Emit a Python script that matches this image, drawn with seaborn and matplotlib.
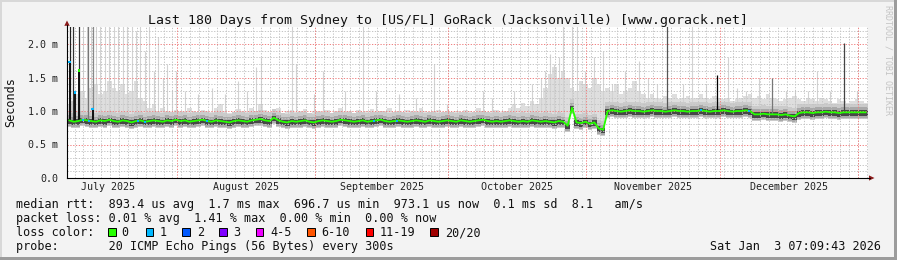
import numpy as np
import pandas as pd
import matplotlib
matplotlib.use("Agg")
import matplotlib.pyplot as plt
import seaborn as sns
from matplotlib.patches import Rectangle, Polygon
from matplotlib.lines import Line2D

# ---------------- data ----------------
START = pd.Timestamp("2025-07-07 07:09:43")
END = pd.Timestamp("2026-01-03 07:09:43")

# daily median rtt in ms (day 0 = 7 Jul 2025)
median_jul = [0.86, 0.84, 0.85, 0.87, 0.86, 0.85, 0.84, 0.86, 0.85, 0.87,
              0.85, 0.84, 0.86, 0.85, 0.83, 0.85, 0.86, 0.84, 0.85, 0.86,
              0.85, 0.84, 0.86, 0.85, 0.87]
median_aug = [0.85, 0.86, 0.84, 0.85, 0.86, 0.87, 0.85, 0.84, 0.86, 0.85,
              0.84, 0.83, 0.85, 0.86, 0.85, 0.84, 0.86, 0.87, 0.88, 0.86,
              0.85, 0.90, 0.86, 0.84, 0.83, 0.85, 0.84, 0.85, 0.86, 0.84,
              0.83]
median_sep = [0.85, 0.86, 0.85, 0.84, 0.85, 0.87, 0.86, 0.85, 0.84, 0.85,
              0.86, 0.84, 0.85, 0.86, 0.87, 0.85, 0.84, 0.85, 0.86, 0.85,
              0.84, 0.85, 0.86, 0.85, 0.84, 0.86, 0.85, 0.84, 0.85, 0.86]
median_oct = [0.85, 0.84, 0.86, 0.85, 0.84, 0.85, 0.86, 0.87, 0.85, 0.84,
              0.85, 0.84, 0.85, 0.86, 0.85, 0.84, 0.85, 0.84, 0.86, 0.85,
              0.84, 0.85, 0.84, 0.83, 0.85, 0.84]
median_shift = [0.78, 1.05, 0.83, 0.82, 0.84, 0.81, 0.83, 0.74, 0.72]
median_nov = [1.00, 1.01, 1.00, 0.99, 1.00, 1.01, 1.00, 1.00, 0.99, 1.00,
              1.01, 1.00, 1.00, 0.99, 1.00, 1.01, 1.00, 1.00, 0.99, 1.00,
              1.00, 1.01, 1.00, 0.99, 1.00, 1.00, 1.01, 1.00, 0.99, 1.00,
              1.00, 1.01, 1.00]
median_dec1 = [0.95, 0.95, 0.96, 0.95, 0.95, 0.95, 0.94, 0.95, 0.93, 0.92]
median_dec2 = [0.97, 0.98, 0.98, 0.97, 0.98, 0.98, 0.99, 0.98, 0.98, 0.97,
               0.98, 0.98, 0.98, 0.98, 0.98, 0.98]

# daily upper edge of the light smoke (ms)
smoke_jul = [1.10, 1.15, 1.25, 1.30, 1.20, 1.35, 1.40, 1.25, 1.30, 1.45,
             1.35, 1.30, 1.40, 1.25, 1.30, 1.45, 1.20, 1.15, 1.05, 1.10,
             1.00, 1.05, 1.00, 0.98, 1.02]
smoke_aug = [1.00, 0.98, 1.05, 1.00, 0.97, 1.02, 1.00, 0.98, 1.05, 1.10,
             1.00, 0.97, 0.99, 1.03, 1.00, 0.98, 1.05, 1.00, 1.10, 1.02,
             0.98, 1.00, 1.05, 0.97, 1.00, 1.02, 0.98, 1.00, 1.03, 0.97,
             1.00]
smoke_sep = [1.00, 0.98, 1.02, 0.97, 1.00, 1.05, 0.98, 1.00, 0.97, 1.02,
             0.98, 1.00, 1.03, 0.97, 0.99, 1.00, 1.05, 0.98, 1.00, 0.97,
             1.02, 1.00, 0.98, 1.05, 1.00, 0.97, 1.00, 1.02, 0.98, 1.00]
smoke_oct = [0.98, 1.00, 0.97, 1.02, 1.00, 0.98, 1.05, 1.00, 0.97, 1.00,
             1.02, 0.98, 1.00, 1.05, 1.10, 1.05, 1.12, 1.08, 1.15, 1.10,
             1.20, 1.35, 1.55, 1.65, 1.50, 1.60]
smoke_shift = [1.50, 1.35, 1.30, 1.45, 1.40, 1.35, 1.50, 1.40, 1.30]
smoke_nov = [1.35, 1.30, 1.40, 1.25, 1.30, 1.35, 1.45, 1.30, 1.25, 1.20,
             1.25, 1.20, 1.18, 1.22, 1.20, 1.25, 1.18, 1.20, 1.22, 1.18,
             1.20, 1.25, 1.20, 1.18, 1.22, 1.20, 1.18, 1.20, 1.15, 1.18,
             1.20, 1.22, 1.25]
smoke_dec1 = [1.20, 1.22, 1.18, 1.25, 1.20, 1.18, 1.15, 1.18, 1.20, 1.22]
smoke_dec2 = [1.18, 1.15, 1.20, 1.18, 1.15, 1.20, 1.18, 1.15, 1.12, 1.18,
              1.15, 1.12, 1.15, 1.18, 1.15, 1.12]

# thin light-grey smoke spikes: day and top (ms)
spike_day = [3, 4, 5, 6, 7, 8, 9, 10, 11, 12, 13, 14, 15, 16,
             17, 18, 19, 20, 21, 22, 23, 24,
             26, 29, 32, 35, 38, 40, 42, 43, 50, 51, 55,
             57, 62, 66, 69, 74, 78, 82, 85,
             93, 95, 100, 104, 106, 107, 108, 109, 110, 111, 113, 114,
             116, 118, 120, 122, 125, 128, 130, 132,
             138, 140, 143, 148, 150, 152, 155, 161, 163, 166, 168, 171, 177]
spike_ms = [2.3, 2.3, 2.3, 2.3, 2.3, 2.3, 2.3, 2.3, 2.3, 2.3, 2.3, 2.3, 2.2, 2.3,
            1.9, 2.3, 1.6, 2.1, 1.5, 1.7, 1.3, 1.6,
            1.3, 1.25, 1.35, 1.25, 1.45, 1.3, 1.65, 1.8, 2.3, 1.7, 1.25,
            1.6, 1.3, 2.3, 1.3, 1.25, 1.2, 1.7, 1.1,
            1.3, 1.2, 1.3, 1.4, 1.5, 1.6, 1.85, 1.7, 1.8, 2.3, 2.3, 2.3,
            1.6, 1.8, 1.9, 1.4, 1.6, 1.75, 1.5, 1.4,
            1.4, 2.3, 1.4, 1.8, 1.35, 1.3, 1.5, 1.3, 1.3, 1.3, 1.6, 1.3, 1.3]

# darker smoke spikes
dark_spike_day = [0.2, 0.8, 2.3, 4.2, 5.4, 134.4, 145.6, 158.0, 174.2]
dark_spike_ms = [2.3, 2.3, 2.3, 2.3, 2.3, 2.3, 1.54, 1.49, 2.01]
dark_spike_shade = ["#222222", "#333333", "#333333", "#777777", "#888888",
                    "#555555", "#000000", "#777777", "#444444"]

# excursions of the median line itself
median_spike_day = [0.1, 1.3, 2.2, 5.3]
median_spike_ms = [1.73, 1.28, 1.60, 1.03]
median_spike_loss = [1, 1, 0, 1]

# days where the median is coloured for 1 lost ping
loss1_day = [3.0, 4.5, 15.5, 17.0, 31.0, 68.5, 73.7, 142.0, 152.8]

y_ticks = [0.0, 0.5, 1.0, 1.5, 2.0]
y_tick_labels = ["0.0", "0.5 m", "1.0 m", "1.5 m", "2.0 m"]
month_labels = ["July 2025", "August 2025", "September 2025",
                "October 2025", "November 2025", "December 2025"]
loss_labels = ["0", "1", "2", "3", "4-5", "6-10", "11-19", "20/20"]
loss_colors = ["#26ff00", "#00b8ff", "#0059ff", "#7e00ff",
               "#ee00ff", "#ff5500", "#ff0000", "#a00000"]

title = "Last 180 Days from Sydney to [US/FL] GoRack (Jacksonville) [www.gorack.net]"
row_median = "median rtt:  893.4 us avg  1.7 ms max  696.7 us min  973.1 us now  0.1 ms sd  8.1   am/s"
row_loss = "packet loss: 0.01 % avg  1.41 % max  0.00 % min  0.00 % now"
row_color = "loss color:"
row_probe = "probe:       20 ICMP Echo Pings (56 Bytes) every 300s"
stamp = "Sat Jan  3 07:09:43 2026"

# ---------------- assemble ----------------
median = np.array(median_jul + median_aug + median_sep + median_oct +
                  median_shift + median_nov + median_dec1 + median_dec2)
smoke_top = np.array(smoke_jul + smoke_aug + smoke_sep + smoke_oct +
                     smoke_shift + smoke_nov + smoke_dec1 + smoke_dec2)
n = len(median)
day = pd.Timedelta(days=1)
centers = START + pd.to_timedelta(np.arange(n) + 0.5, unit="D")
edges = START + pd.to_timedelta(np.arange(n + 1), unit="D")
med_e = np.append(median, median[-1])
top_e = np.append(smoke_top, smoke_top[-1])

def dts(days):
    return START + pd.to_timedelta(np.asarray(days, dtype=float) + 0.5, unit="D")

W, H = 897, 260
def P(x, y):
    return (x / W, 1 - y / H)

sns.set_theme(style="white")
plt.rcParams["font.family"] = ["DejaVu Sans Mono", "DejaVu Sans"]

BG = "#f3f3f3"
fig = plt.figure(figsize=(W / 100, H / 100), dpi=100, facecolor=BG)
ax = fig.add_axes([67 / W, 82 / H, 801 / W, 151 / H])
ax.set_facecolor("white")
ax.set_xlim(START, END)
ax.set_ylim(0, 151 / 67)

# smoke layers
ax.fill_between(edges, med_e - 0.10, top_e, step="post", color="#dedede", lw=0, zorder=1.0)
ax.vlines(dts(spike_day), np.interp(spike_day, np.arange(n), median), spike_ms,
          color="#d2d2d2", lw=0.8, zorder=1.05)
ax.fill_between(edges, med_e - 0.10, med_e + 0.13, step="post", color="#cbcbcb", lw=0, zorder=1.1)
ax.fill_between(edges, med_e - 0.085, med_e + 0.075, step="post", color="#a9a9a9", lw=0, zorder=1.15)
ax.fill_between(edges, med_e - 0.055, med_e + 0.03, step="post", color="#474747", lw=0, zorder=1.2)

# grid
minor_start = START.normalize() + day
if ((minor_start - pd.Timestamp("1970-01-01")).days) % 2:
    minor_start += day
for d in pd.date_range(minor_start, END, freq="2D"):
    ax.axvline(d, color="#c4c4c4", lw=0.7, ls=(0, (1.3, 1.6)), zorder=1.5)
for v in np.arange(0.1, 2.25, 0.1):
    if abs(v / 0.5 - round(v / 0.5)) > 1e-6:
        ax.axhline(v, color="#c4c4c4", lw=0.7, ls=(0, (1.3, 1.6)), zorder=1.5)
months = pd.date_range("2025-07-01", "2026-02-01", freq="MS")
month_lines = [m for m in months if START < m < END]
for m in month_lines:
    ax.axvline(m, color="#f08080", lw=0.7, ls=(0, (1.3, 1.6)), zorder=1.55)
for v in y_ticks[1:]:
    ax.axhline(v, color="#f08080", lw=0.7, ls=(0, (1.3, 1.6)), zorder=1.55)

# dark spikes
base_dark = np.interp(dark_spike_day, np.arange(n), median)
for d, b, t, c in zip(dark_spike_day, base_dark, dark_spike_ms, dark_spike_shade):
    ax.vlines(dts([d]), b, t, color=c, lw=0.9, zorder=1.6)

# median line
sns.lineplot(x=centers, y=median, color=loss_colors[0], linewidth=1.3,
             ax=ax, zorder=3, legend=False)
base_ms = np.interp(median_spike_day, np.arange(n), median)
ax.vlines(dts(median_spike_day), base_ms, median_spike_ms, color="#111111",
          lw=1.4, zorder=2.9)
ax.scatter(dts(median_spike_day), median_spike_ms,
           c=[loss_colors[k] for k in median_spike_loss], marker="s", s=4,
           lw=0, zorder=3.2)
ax.scatter(dts(loss1_day), np.interp(loss1_day, np.arange(n), median),
           color=loss_colors[1], marker="s", s=4, lw=0, zorder=3.1)
ax.set_xlabel("")
ax.set_ylabel("")

# axes cosmetics
for s in ["top", "right"]:
    ax.spines[s].set_visible(False)
for s in ["left", "bottom"]:
    ax.spines[s].set_color("black")
    ax.spines[s].set_linewidth(0.8)
    ax.spines[s].set_zorder(4)
ax.set_yticks(y_ticks)
ax.set_yticklabels(y_tick_labels, fontsize=7.2, color="#222222")
ax.tick_params(axis="y", length=2.5, width=0.7, pad=4.0, color="black", direction="out")
ax.set_xticks([START] + month_lines)
ax.set_xticklabels([])
ax.tick_params(axis="x", length=2.5, width=0.7, color="#d07070", direction="out")
ax.grid(False)

xtr = ax.get_xaxis_transform()
for i, lab in enumerate(month_labels):
    mid = months[i] + (months[i + 1] - months[i]) / 2
    ax.text(mid, -12.5 / 151, lab, transform=xtr, ha="center", va="baseline",
            fontsize=7.2, color="#222222", clip_on=False)

# axis extensions and arrows
arrow_c = "#8b1a1a"
fig.add_artist(Line2D([P(67, 27)[0], P(67, 25)[0]], [P(67, 27)[1], P(67, 25)[1]],
                      color="black", lw=0.8, transform=fig.transFigure))
fig.add_artist(Line2D([P(868, 178)[0], P(870, 178)[0]], [P(868, 178)[1], P(870, 178)[1]],
                      color="black", lw=0.8, transform=fig.transFigure))
fig.add_artist(Polygon([P(64.3, 25.8), P(69.7, 25.8), P(67, 20.5)], closed=True,
                       color=arrow_c, lw=0, transform=fig.transFigure))
fig.add_artist(Polygon([P(869, 175.4), P(869, 180.6), P(874.5, 178)], closed=True,
                       color=arrow_c, lw=0, transform=fig.transFigure))

# texts
fig.text(*P(447.5, 24), title, ha="center", va="baseline", fontsize=9.5, color="#111111")
fig.text(*P(11, 102.5), "Seconds", rotation=90, ha="center", va="center",
         fontsize=8.45, color="#111111")
fig.text(*P(888, 60), "RRDTOOL / TOBI OETIKER", rotation=270, ha="center",
         va="center", fontsize=6.0, color="#c4c4c4")
fig.text(*P(16, 207.7), row_median, ha="left", va="baseline", fontsize=8.45, color="#111111")
fig.text(*P(16, 222.0), row_loss, ha="left", va="baseline", fontsize=8.45, color="#111111")
fig.text(*P(16, 236.2), row_color, ha="left", va="baseline", fontsize=8.45, color="#111111")
fig.text(*P(16, 250.4), row_probe, ha="left", va="baseline", fontsize=8.45, color="#111111")
fig.text(*P(880.5, 250.4), stamp, ha="right", va="baseline", fontsize=8.45, color="#111111")

box_x = [108.3, 145.7, 182.3, 219.0, 255.7, 307.3, 365.7, 430.0]
lab_x = [121.7, 159.3, 196.7, 233.3, 270.0, 321.7, 380.0, 445.0]
for bx, lx, lab, col in zip(box_x, lab_x, loss_labels, loss_colors):
    x0, y0 = P(bx, 236.0)
    fig.add_artist(Rectangle((x0, y0), 7.6 / W, 8.0 / H, facecolor=col,
                             edgecolor="black", lw=0.7, transform=fig.transFigure))
    fig.text(*P(lx, 236.2), lab, ha="left", va="baseline", fontsize=8.45, color="#111111")

# frame
fig.add_artist(Rectangle((0, 1 - 2 / H), 1, 2 / H, facecolor="#d8d8d8", lw=0, transform=fig.transFigure))
fig.add_artist(Rectangle((0, 0), 2 / W, 1, facecolor="#d8d8d8", lw=0, transform=fig.transFigure))
fig.add_artist(Rectangle((0, 0), 1, 3 / H, facecolor="#9c9c9c", lw=0, transform=fig.transFigure))
fig.add_artist(Rectangle((1 - 3 / W, 0), 3 / W, 1, facecolor="#9c9c9c", lw=0, transform=fig.transFigure))

fig.savefig("out.png", dpi=100, facecolor=BG)
